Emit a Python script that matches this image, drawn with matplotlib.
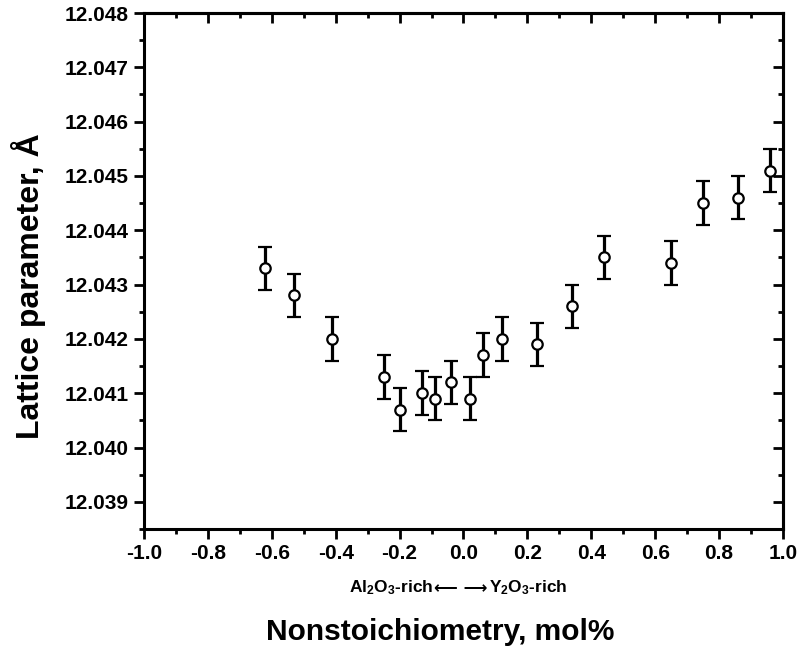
import numpy as np
import matplotlib
matplotlib.use("Agg")
import matplotlib.pyplot as plt
from matplotlib.ticker import MultipleLocator, FormatStrFormatter

# Lattice parameter vs nonstoichiometry
nonstoich = [-0.62, -0.53, -0.41, -0.25, -0.20, -0.13, -0.09, -0.04, 0.02,
             0.06, 0.12, 0.23, 0.34, 0.44, 0.65, 0.75, 0.86, 0.96]
lattice = [12.0433, 12.0428, 12.0420, 12.0413, 12.0407, 12.0410, 12.0409,
           12.0412, 12.0409, 12.0417, 12.0420, 12.0419, 12.0426, 12.0435,
           12.0434, 12.0445, 12.0446, 12.0451]
lattice_err = [0.0004] * len(lattice)

plt.rcParams["font.family"] = ["Liberation Sans", "DejaVu Sans"]
plt.rcParams["font.weight"] = "bold"
plt.rcParams["mathtext.fontset"] = "custom"
plt.rcParams["mathtext.rm"] = "Liberation Sans:bold"
plt.rcParams["mathtext.it"] = "Liberation Sans:bold"
plt.rcParams["mathtext.bf"] = "Liberation Sans:bold"

fig = plt.figure(figsize=(8.03, 6.51), dpi=100)
ax = fig.add_axes([0.1793, 0.1874, 0.7957, 0.7926])

ax.errorbar(nonstoich, lattice, yerr=lattice_err, fmt="o", color="black",
            mfc="white", mec="black", ms=7.5, mew=1.6, elinewidth=2.3,
            capsize=4.7, capthick=2.3, zorder=3)

ax.set_xlim(-1.0, 1.0)
ax.set_ylim(12.0385, 12.048)
ax.xaxis.set_major_locator(MultipleLocator(0.2))
ax.xaxis.set_minor_locator(MultipleLocator(0.1))
ax.yaxis.set_major_locator(MultipleLocator(0.001))
ax.yaxis.set_minor_locator(MultipleLocator(0.0005))
ax.xaxis.set_major_formatter(FormatStrFormatter("%.1f"))
ax.yaxis.set_major_formatter(FormatStrFormatter("%.3f"))

for s in ax.spines.values():
    s.set_linewidth(2.2)

# outward ticks on bottom/left, inward mirrored ticks on top/right
ax.tick_params(which="both", direction="out", width=2.0, labelsize=15,
               top=False, right=False)
ax.tick_params(which="major", length=7, pad=4)
ax.tick_params(which="minor", length=3.5)

ax_top = ax.secondary_xaxis("top")
ax_top.xaxis.set_major_locator(MultipleLocator(0.2))
ax_top.xaxis.set_minor_locator(MultipleLocator(0.1))
ax_top.tick_params(which="both", direction="in", width=2.0, labeltop=False)
ax_top.tick_params(which="major", length=7)
ax_top.tick_params(which="minor", length=3.5)
ax_top.spines["top"].set_linewidth(2.2)

ax_right = ax.secondary_yaxis("right")
ax_right.yaxis.set_major_locator(MultipleLocator(0.001))
ax_right.yaxis.set_minor_locator(MultipleLocator(0.0005))
ax_right.tick_params(which="both", direction="in", width=2.0, labelright=False)
ax_right.tick_params(which="major", length=7)
ax_right.tick_params(which="minor", length=3.5)
ax_right.spines["right"].set_linewidth(2.2)

for lbl in ax.get_xticklabels() + ax.get_yticklabels():
    lbl.set_fontweight("bold")

fig.text(0.035, 0.561, "Lattice parameter, Å", fontsize=23, fontweight="bold",
         rotation=90, ha="center", va="center")
fig.text(0.548, 0.029, "Nonstoichiometry, mol%", fontsize=21.5,
         fontweight="bold", ha="center", va="center")

# composition direction note under the x axis
note_y = 0.097
fig.text(0.539, note_y, r"Al$_2$O$_3$-rich", fontsize=12.5,
         fontweight="bold", ha="right", va="center")
fig.text(0.574, note_y, "⟵ ⟶", fontsize=12, family="DejaVu Sans",
         ha="center", va="center")
fig.text(0.609, note_y, r"Y$_2$O$_3$-rich", fontsize=12.5,
         fontweight="bold", ha="left", va="center")

fig.savefig("out.png", dpi=100)
